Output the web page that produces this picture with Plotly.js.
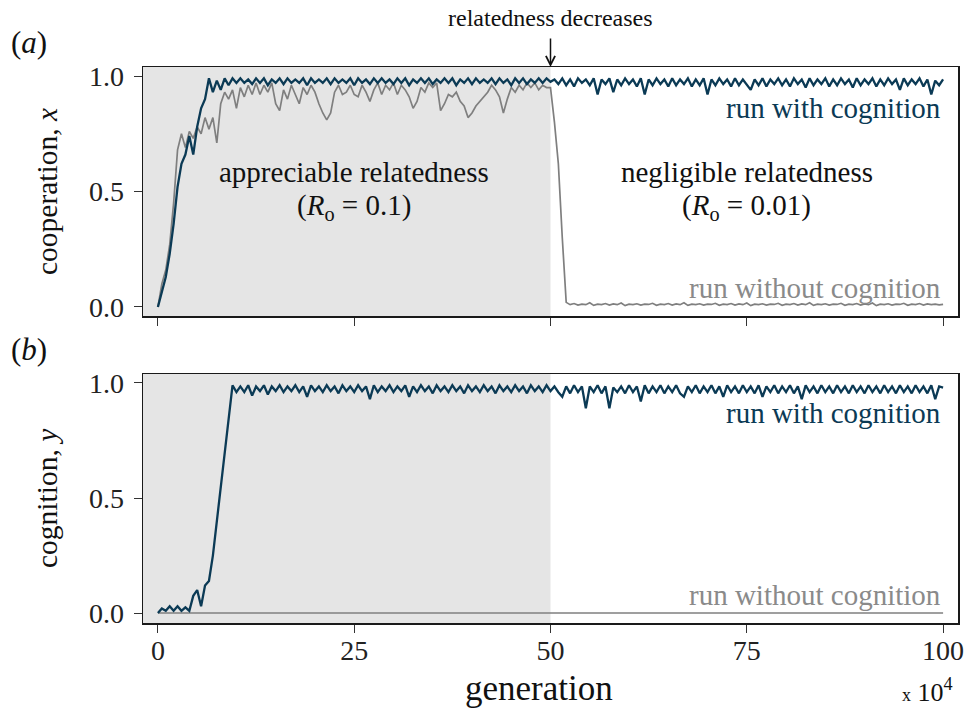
<!DOCTYPE html>
<html>
<head>
<meta charset="utf-8">
<script src="https://cdn.plot.ly/plotly-3.0.1.min.js"></script>
<style>html,body{margin:0;padding:0;background:#fff;}#chart{width:966px;height:710px;}</style>
</head>
<body>
<div id="chart"></div>
<script>
// generation (x 10^4), sampled every 0.5 from 0 to 100
const genStep = 0.5;
const genCount = 201;

// (a) cooperation, run with cognition
const coopWithCog = [
0.00,0.07,0.13,0.23,0.36,0.52,0.62,0.66,0.74,0.66,0.78,0.86,0.90,0.99,0.93,0.98,0.94,0.99,0.96,0.99,0.97,
0.99,0.97,0.985,0.965,0.99,0.97,0.99,0.96,0.985,0.97,
0.99,0.965,0.99,0.97,0.985,0.97,0.99,0.96,0.99,0.97,
0.985,0.97,0.99,0.965,0.99,0.97,0.985,0.97,0.99,0.96,
0.99,0.97,0.985,0.965,0.99,0.97,0.99,0.97,0.985,0.965,
0.99,0.97,0.99,0.96,0.985,0.97,0.99,0.97,0.99,0.965,
0.985,0.97,0.99,0.97,0.99,0.96,0.985,0.97,0.99,0.965,
0.99,0.97,0.985,0.97,0.99,0.965,0.99,0.97,0.985,0.96,
0.99,0.97,0.99,0.965,0.985,0.97,0.99,0.97,0.99,0.975,
0.985,0.965,0.99,0.96,0.985,0.955,0.99,0.97,0.985,0.96,
0.99,0.92,0.985,0.965,0.99,0.93,0.985,0.96,0.99,0.965,
0.985,0.955,0.99,0.92,0.985,0.96,0.99,0.965,0.985,0.955,
0.99,0.96,0.985,0.965,0.99,0.955,0.985,0.96,0.99,0.92,
0.985,0.96,0.99,0.965,0.985,0.955,0.99,0.96,0.985,0.965,
0.94,0.985,0.96,0.99,0.955,0.985,0.965,0.99,0.96,0.985,
0.955,0.99,0.965,0.985,0.95,0.99,0.96,0.985,0.965,0.99,
0.955,0.985,0.96,0.99,0.965,0.985,0.95,0.99,0.96,0.985,
0.965,0.99,0.955,0.985,0.96,0.99,0.965,0.985,0.94,0.99,
0.96,0.985,0.965,0.99,0.955,0.985,0.92,0.98,0.96,0.985
];

// (a) cooperation, run without cognition
const coopNoCog = [
0.00,0.10,0.16,0.27,0.45,0.68,0.75,0.69,0.76,0.73,0.78,0.75,0.82,0.77,0.82,0.71,0.88,0.93,0.90,0.94,0.86,
0.95,0.91,0.96,0.92,0.97,0.92,0.96,0.93,0.97,0.88,
0.85,0.94,0.90,0.96,0.92,0.88,0.95,0.92,0.96,0.93,
0.88,0.84,0.81,0.84,0.93,0.96,0.92,0.93,0.96,0.92,
0.91,0.96,0.93,0.89,0.94,0.97,0.92,0.96,0.94,0.97,
0.92,0.96,0.94,0.91,0.86,0.89,0.95,0.93,0.97,0.95,
0.97,0.85,0.88,0.92,0.91,0.93,0.89,0.87,0.82,0.84,
0.87,0.89,0.91,0.93,0.96,0.94,0.91,0.84,0.90,0.95,
0.93,0.96,0.94,0.97,0.95,0.97,0.94,0.96,0.95,0.95,
0.80,0.62,0.30,0.02,
0.01,0.015,0.008,0.012,0.01,0.018,0.007,0.012,0.01,0.015,
0.008,0.013,0.01,0.017,0.006,0.012,0.01,0.014,0.008,0.012,
0.011,0.016,0.007,0.012,0.01,0.015,0.008,0.013,0.01,0.018,
0.007,0.012,0.01,0.014,0.008,0.012,0.011,0.016,0.007,0.012,
0.01,0.015,0.008,0.013,0.01,0.017,0.006,0.012,0.01,0.014,
0.008,0.012,0.011,0.016,0.007,0.012,0.01,0.015,0.008,0.013,
0.01,0.018,0.007,0.012,0.01,0.014,0.008,0.012,0.011,0.016,
0.007,0.012,0.01,0.015,0.008,0.013,0.01,0.017,0.006,0.012,
0.01,0.014,0.008,0.012,0.011,0.016,0.007,0.012,0.01,0.015,
0.008,0.013,0.01,0.012,0.009,0.011
];

// (b) cognition, run with cognition
const cogWithCog = [
0.00,0.02,0.01,0.03,0.01,0.03,0.01,0.025,0.01,0.075,0.10,0.03,0.12,0.14,0.25,0.40,0.54,0.69,0.84,0.99,0.96,
0.985,0.96,0.99,0.945,0.985,0.965,0.99,0.95,0.985,0.965,
0.99,0.96,0.985,0.965,0.99,0.96,0.985,0.94,0.99,0.965,
0.985,0.96,0.99,0.965,0.985,0.955,0.99,0.965,0.985,0.96,
0.99,0.965,0.985,0.93,0.99,0.96,0.985,0.965,0.99,0.96,
0.985,0.965,0.99,0.94,0.985,0.96,0.99,0.965,0.985,0.955,
0.99,0.965,0.985,0.96,0.99,0.965,0.985,0.955,0.99,0.965,
0.985,0.96,0.99,0.965,0.985,0.955,0.99,0.965,0.985,0.96,
0.99,0.965,0.985,0.955,0.99,0.965,0.985,0.96,0.99,0.965,
0.985,0.96,0.94,0.985,0.955,0.99,0.96,0.985,0.89,0.985,
0.96,0.99,0.955,0.985,0.89,0.98,0.96,0.985,0.955,0.99,
0.96,0.985,0.92,0.99,0.955,0.985,0.96,0.99,0.955,0.985,
0.96,0.99,0.955,0.94,0.985,0.96,0.99,0.955,0.985,0.96,
0.99,0.955,0.985,0.94,0.99,0.96,0.985,0.955,0.99,0.96,
0.985,0.955,0.99,0.94,0.985,0.96,0.99,0.955,0.985,0.96,
0.99,0.955,0.985,0.93,0.99,0.96,0.985,0.955,0.99,0.96,
0.985,0.955,0.99,0.96,0.985,0.955,0.99,0.96,0.985,0.955,
0.99,0.96,0.985,0.955,0.99,0.96,0.985,0.955,0.99,0.96,
0.985,0.955,0.99,0.96,0.985,0.955,0.99,0.93,0.985,0.98
];

// (b) cognition, run without cognition (stays at zero)
const genEnds = [0, 100];
const cogNoCog = [0, 0];

const xTickVals = [0, 25, 50, 75, 100];
const xTickText = ['0', '25', '50', '75', '100'];
const yTickVals = [0, 0.5, 1];
const yTickText = ['0.0', '0.5', '1.0'];

const gen = [];
for (let i = 0; i < genCount; i++) gen.push(i * genStep);

const DARK = '#0b3a55';
const GREY = '#7f7f7f';
const FONT = "'Liberation Serif', 'Times New Roman', serif";

const traces = [
  {x: gen, y: coopNoCog, xaxis: 'x', yaxis: 'y', mode: 'lines', line: {color: GREY, width: 1.7}, hoverinfo: 'skip'},
  {x: gen, y: coopWithCog, xaxis: 'x', yaxis: 'y', mode: 'lines', line: {color: DARK, width: 2.3}, hoverinfo: 'skip'},
  {x: genEnds, y: cogNoCog, xaxis: 'x2', yaxis: 'y2', mode: 'lines', line: {color: GREY, width: 1.5}, hoverinfo: 'skip'},
  {x: gen, y: cogWithCog, xaxis: 'x2', yaxis: 'y2', mode: 'lines', line: {color: DARK, width: 2.3}, hoverinfo: 'skip'}
];

const W = 966, H = 710;
const xDom = [143 / W, 958 / W];
const topDom = [1 - 316 / H, 1 - 67 / H];
const botDom = [1 - 623 / H, 1 - 374 / H];

const axisCommon = {
  range: [-1.9, 101.9], showgrid: false, zeroline: false,
  showline: true, mirror: true, linecolor: '#1a1a1a', linewidth: 1.5,
  ticks: 'outside', ticklen: 8, tickwidth: 1, tickcolor: '#333',
  tickvals: xTickVals, ticktext: xTickText, ticklabelstandoff: -6,
  tickfont: {family: FONT, size: 28, color: '#222'}, fixedrange: true
};
const yCommon = {
  showgrid: false, zeroline: false,
  showline: true, mirror: true, linecolor: '#1a1a1a', linewidth: 1.5,
  ticks: 'outside', ticklen: 8, tickwidth: 1, tickcolor: '#333',
  tickvals: yTickVals, ticktext: yTickText, ticklabelstandoff: 4,
  tickfont: {family: FONT, size: 28, color: '#222'}, fixedrange: true
};

const txt = (text, x, y, xref, yref, opts) => Object.assign({
  text: text, x: x, y: y, xref: xref, yref: yref, showarrow: false,
  xanchor: 'center', yanchor: 'middle',
  font: {family: FONT, size: 29, color: '#111'}
}, opts || {});

const annotations = [
  txt('(<i>a</i>)', 29 / W, 1 - 42 / H, 'paper', 'paper', {font: {family: FONT, size: 31, color: '#111'}}),
  txt('(<i>b</i>)', 29 / W, 1 - 349 / H, 'paper', 'paper', {font: {family: FONT, size: 31, color: '#111'}}),
  txt('cooperation, <i>x</i>', 47 / W, 1 - 192 / H, 'paper', 'paper', {textangle: -90, font: {family: FONT, size: 29.5, color: '#111'}}),
  txt('cognition, <i>y</i>', 47 / W, 1 - 498 / H, 'paper', 'paper', {textangle: -90, font: {family: FONT, size: 29.5, color: '#111'}}),
  txt('generation', 539 / W, 1 - 688 / H, 'paper', 'paper', {font: {family: FONT, size: 35, color: '#111'}}),
  txt('<span style="font-size:18px">x</span> 10<sup>4</sup>', 955 / W, 1 - 690 / H, 'paper', 'paper', {xanchor: 'right', font: {family: FONT, size: 26, color: '#111'}}),
  txt('relatedness decreases', 50, 1 - 18 / H, 'x', 'paper', {font: {family: FONT, size: 24, color: '#111'}}),
  {x: 50, y: 1.039, xref: 'x', yref: 'y', text: '', showarrow: true, arrowhead: 5, arrowsize: 1.2, arrowwidth: 1.5, arrowcolor: '#111', ax: 0, ay: -30, standoff: 0},
  txt('appreciable relatedness', 25, 0.585, 'x', 'y'),
  txt('(<i>R</i><sub>o</sub> = 0.1)', 25, 0.435, 'x', 'y'),
  txt('negligible relatedness', 75, 0.585, 'x', 'y'),
  txt('(<i>R</i><sub>o</sub> = 0.01)', 75, 0.435, 'x', 'y'),
  txt('run with cognition', 100, 0.861, 'x', 'y', {xanchor: 'right', font: {family: FONT, size: 29, color: DARK}}),
  txt('run without cognition', 100, 0.082, 'x', 'y', {xanchor: 'right', font: {family: FONT, size: 29, color: '#8a8a8a'}}),
  txt('run with cognition', 100, 0.87, 'x2', 'y2', {xanchor: 'right', font: {family: FONT, size: 29, color: DARK}}),
  txt('run without cognition', 100, 0.078, 'x2', 'y2', {xanchor: 'right', font: {family: FONT, size: 29, color: '#8a8a8a'}})
];

const shapes = [
  {type: 'rect', xref: 'x', yref: 'y domain', x0: -1.9, x1: 50, y0: 0, y1: 1, fillcolor: '#e5e5e5', line: {width: 0}, layer: 'below'},
  {type: 'rect', xref: 'x2', yref: 'y2 domain', x0: -1.9, x1: 50, y0: 0, y1: 1, fillcolor: '#e5e5e5', line: {width: 0}, layer: 'below'}
];

const layout = {
  width: W, height: H,
  margin: {l: 0, r: 0, t: 0, b: 0},
  paper_bgcolor: '#ffffff', plot_bgcolor: '#ffffff',
  showlegend: false,
  font: {family: FONT},
  xaxis: Object.assign({}, axisCommon, {domain: xDom, anchor: 'y', showticklabels: false}),
  yaxis: Object.assign({}, yCommon, {domain: topDom, anchor: 'x', range: [-0.039, 1.039]}),
  xaxis2: Object.assign({}, axisCommon, {domain: xDom, anchor: 'y2', showticklabels: true}),
  yaxis2: Object.assign({}, yCommon, {domain: botDom, anchor: 'x2', range: [-0.043, 1.039]}),
  annotations: annotations,
  shapes: shapes
};

Plotly.newPlot('chart', traces, layout, {displayModeBar: false, staticPlot: true});
</script>
</body>
</html>
